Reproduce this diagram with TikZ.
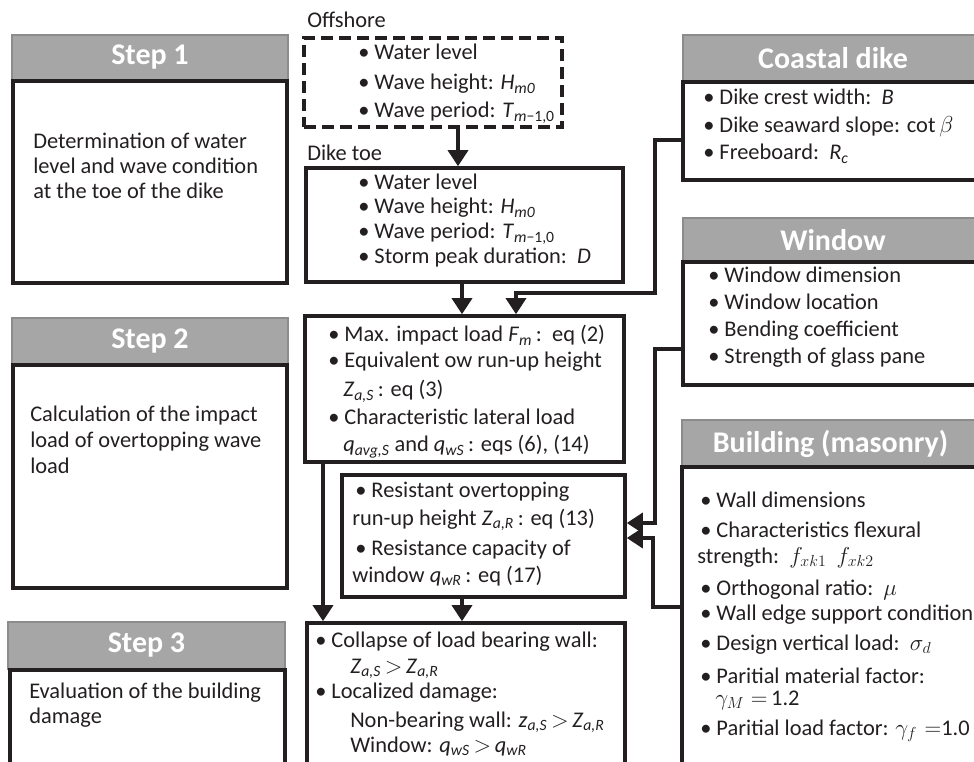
\documentclass[tikz,border=0pt]{standalone}
\usepackage{fontspec}
\setmainfont{Carlito}
\usetikzlibrary{arrows.meta,fit}
\definecolor{ink}{HTML}{231F20}
\definecolor{hfill}{HTML}{A6A6A6}
\definecolor{hline}{HTML}{8C8C8C}
\newcommand\sbi[1]{\textsubscript{\textit{#1}}}
\newcommand\bl{•\ }
\begin{document}
\begin{tikzpicture}[x=0.75pt,y=-0.75pt,
  box/.style={draw=ink, line width=2.7pt, inner sep=0pt},
  dbox/.style={draw=ink, line width=2.7pt, inner sep=0pt, dash pattern=on 9pt off 4.5pt},
  hdr/.style={fill=hfill, draw=hline, line width=1.6pt, inner sep=0pt},
  htx/.style={inner sep=0pt, text=white, font=\fontsize{22.5}{26}\selectfont\bfseries},
  tx/.style={anchor=base west, inner sep=0pt, text=ink, font=\fontsize{16.8}{19}\selectfont},
  arr/.style={draw=ink, line width=2.6pt, -{Triangle[width=15pt,length=12pt]}}]
\useasboundingbox (0,0) rectangle (974,762);
\clip (0,0) rectangle (974,762);

% ---- step column
\node[hdr, fit={(12,35) (288,80)}] (h1) {};
\node[htx] (h1t) at (h1.center) {Step 1};
\node[box, fit={(13,81) (287,283)}] (b1) {};
\node[hdr, fit={(12,318) (288,364)}] (h2) {};
\node[htx] (h2t) at (h2.center) {Step 2};
\node[box, fit={(13,365) (287,588)}] (b2) {};
\node[hdr, fit={(8,622) (285,669)}] (h3) {};
\node[htx] (h3t) at (h3.center) {Step 3};
\node[box, fit={(10,670) (285,790)}] (b3) {};

\node[tx] (s1a) at (33,149) {Determination of water};
\node[tx] (s1b) at (33,174) {level and wave condition};
\node[tx] (s1c) at (33,199) {at the toe of the dike};
\node[tx] (s2a) at (30,422) {Calculation of the impact};
\node[tx] (s2b) at (30,448) {load of overtopping wave};
\node[tx] (s2c) at (30,474) {load};
\node[tx] (s3a) at (29,698) {Evaluation of the building};
\node[tx] (s3b) at (29,723) {damage};

% ---- middle column
\node[tx] (loff) at (307,28) {Offshore};
\node[dbox, fit={(304,38) (562,127)}] (off) {};
\node[tx] (o1) at (358,60) {\bl Water level};
\node[tx] (o2) at (358,90) {\bl Wave height: \textit{H}\sbi{m0}};
\node[tx] (o3) at (358,118) {\bl Wave period: \textit{T}\textsubscript{\textit{m}−1,0}};

\node[tx] (ltoe) at (307,161) {Dike toe};
\node[box, fit={(306,168) (623,282)}] (toe) {};
\node[tx] (d1) at (358,190) {\bl Water level};
\node[tx] (d2) at (358,214) {\bl Wave height: \textit{H}\sbi{m0}};
\node[tx] (d3) at (358,239) {\bl Wave period: \textit{T}\textsubscript{\textit{m}−1,0}};
\node[tx] (d4) at (358,264) {\bl Storm peak duration:\ \ \textit{D}};

\node[box, fit={(305,316) (624,462)}] (maxb) {};
\node[tx] (m1) at (328,342) {\bl Max. impact load \textit{F}\sbi{m}\,:\ \ eq (2)};
\node[tx] (m2) at (328,368) {\bl Equivalent ow run-up height};
\node[tx] (m3) at (343,397) {\textit{Z}\sbi{a,S}\,: eq (3)};
\node[tx] (m4) at (328,425) {\bl Characteristic lateral load};
\node[tx] (m5) at (343,452) {\textit{q}\sbi{avg,S} and \textit{q}\sbi{wS}\,: eqs (6), (14)};

\node[box, fit={(342,475) (625,597)}] (res) {};
\node[tx] (r1) at (355,498) {\bl Resistant overtopping};
\node[tx] (r2) at (352,525) {run-up height \textit{Z}\sbi{a,R}\,: eq (13)};
\node[tx] (r3) at (355,555) {\bl Resistance capacity of};
\node[tx] (r4) at (352,582) {window \textit{q}\sbi{wR}\,: eq (17)};

\node[box, fit={(307,623) (625,790)}] (col) {};
\node[tx] (c1) at (315,647) {\bl Collapse of load bearing wall:};
\node[tx] (c2) at (350,673) {\textit{Z}\sbi{a,S}\,$>$\,\textit{Z}\sbi{a,R}};
\node[tx] (c3) at (315,698) {\bl Localized damage:};
\node[tx] (c4) at (350,727) {Non-bearing wall: \textit{z}\sbi{a,S}\,$>$\,\textit{Z}\sbi{a,R}};
\node[tx] (c5) at (350,752) {Window: \textit{q}\sbi{wS}\,$>$\,\textit{q}\sbi{wR}};

% ---- right column
\node[hdr, fit={(683,35) (983,82)}] (hc) {};
\node[htx] (hct) at (hc.center) {Coastal dike};
\node[box, fit={(683,82) (990,180)}] (cdb) {};
\node[tx] (k1) at (703,105) {\bl Dike crest width:\ \ \textit{B}};
\node[tx] (k2) at (703,133) {\bl Dike seaward slope: $\cot\beta$};
\node[tx] (k3) at (703,160) {\bl Freeboard:\ \ \textit{R}\sbi{c}};

\node[hdr, fit={(683,218) (983,262)}] (hw) {};
\node[htx] (hwt) at (hw.center) {Window};
\node[box, fit={(683,262) (990,385)}] (wb) {};
\node[tx] (w1) at (708,283) {\bl Window dimension};
\node[tx] (w2) at (708,310) {\bl Window location};
\node[tx] (w3) at (708,337) {\bl Bending coefficient};
\node[tx] (w4) at (708,364) {\bl Strength of glass pane};

\node[hdr, fit={(682,420) (979,467)}] (hb) {};
\node[htx] (hbt) at (hb.center) {Building (masonry)};
\node[box, fit={(682,467) (990,790)}] (bb) {};
\node[tx] (g1) at (700,508) {\bl Wall dimensions};
\node[tx] (g2) at (700,537) {\bl Characteristics flexural};
\node[tx] (g3) at (697,563) {strength:\ \ $f_{xk1}$\ \ $f_{xk2}$};
\node[tx] (g4) at (700,595) {\bl Orthogonal ratio:\ \ $\mu$};
\node[tx] (g5) at (700,620) {\bl Wall edge support condition};
\node[tx] (g6) at (700,650) {\bl Design vertical load:\ \ $\sigma_d$};
\node[tx] (g7) at (700,683) {\bl Paritial material factor:};
\node[tx] (g8) at (715,705) {$\gamma_M=$\,1.2};
\node[tx] (g9) at (700,735) {\bl Paritial load factor: $\gamma_f$\,\,$=$1.0};

% ---- connectors
\coordinate (x1) at (458,0);
\coordinate (x2) at (462,0);
\coordinate (x3) at (516,0);
\coordinate (x6) at (323,0);
\coordinate (y3) at (0,140);
\coordinate (y4) at (0,349);
\coordinate (y5) at (0,607);
\coordinate (q3) at (655,293);
\coordinate (q4) at (655,523);
\coordinate (q5) at (653,538);

\draw[arr] (off.south -| x1) -- (toe.north -| x1);
\draw[arr] (toe.south -| x2) -- (maxb.north -| x2);
\draw[arr] (cdb.west |- y3) -| (q3) -| (maxb.north -| x3);
\draw[arr] (wb.west |- y4) -| (q4) -- (res.east |- q4);
\draw[arr] (bb.west |- y5) -| (q5) -- (res.east |- q5);
\draw[arr] (maxb.south -| x6) -- (col.north -| x6);
\draw[arr] (res.south -| x2) -- (col.north -| x2);
\end{tikzpicture}
\end{document}
